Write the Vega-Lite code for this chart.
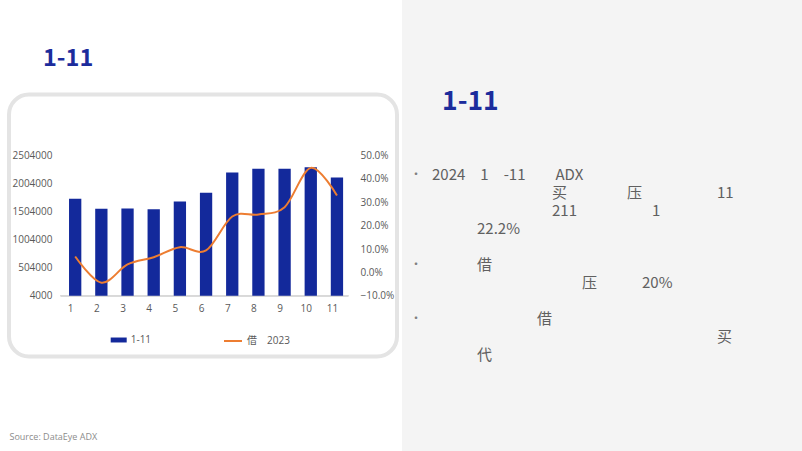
{
  "$schema": "https://vega.github.io/schema/vega-lite/v6.json",
  "background": "white",
  "padding": {"left": 7, "top": 0, "right": 0, "bottom": 0},
  "bounds": "flush",
  "center": true,
  "spacing": 5,
  "config": {
    "font": "Open Sans, Noto Sans CJK SC",
    "axis": {"labelFont": "Open Sans, Noto Sans CJK SC", "labelColor": "#595959", "labelFontSize": 10, "grid": false},
    "legend": {"labelFont": "Open Sans, Noto Sans CJK SC", "labelColor": "#595959", "labelFontSize": 10}
  },
  "hconcat": [
    {
      "width": 388,
      "height": 262,
      "view": {"stroke": "#e4e4e4", "strokeWidth": 4, "cornerRadius": 20, "fill": "white"},
      "title": {"text": "1-11", "anchor": "start", "frame": "group", "dx": 34, "offset": 5, "baseline": "alphabetic", "fontSize": 23.5, "fontWeight": "bold", "color": "#1c2c9c", "font": "Noto Sans CJK SC"},
      "data": {"values": [
        {"month": 1, "count": 1732000, "yoy": 0.068},
        {"month": 2, "count": 1554000, "yoy": -0.044},
        {"month": 3, "count": 1560000, "yoy": 0.034},
        {"month": 4, "count": 1548000, "yoy": 0.065},
        {"month": 5, "count": 1684000, "yoy": 0.108},
        {"month": 6, "count": 1839000, "yoy": 0.094},
        {"month": 7, "count": 2201000, "yoy": 0.239},
        {"month": 8, "count": 2266000, "yoy": 0.248},
        {"month": 9, "count": 2266000, "yoy": 0.279},
        {"month": 10, "count": 2296000, "yoy": 0.447},
        {"month": 11, "count": 2112000, "yoy": 0.329}
      ]},
      "encoding": {
        "x": {
          "field": "month", "type": "quantitative",
          "scale": {"domain": [-1.337, 13.103], "nice": false, "zero": false},
          "axis": {
            "orient": "bottom", "offset": -60.7, "ticks": false, "domain": false,
            "values": [1, 2, 3, 4, 5, 6, 7, 8, 9, 10, 11], "format": "d",
            "labelPadding": 8, "labelAngle": 0, "labelOffset": -5, "labelFlush": false,
            "title": "Source: DataEye ADX", "titleX": 0, "titleY": 141, "titleAlign": "left", "titleAnchor": "start",
            "titleBaseline": "middle", "titleFontSize": 9, "titleFontWeight": "normal", "titleColor": "#8c8c8c", "titleFont": "Open Sans"
          }
        }
      },
      "layer": [
        {
          "layer": [
            {
              "mark": {"type": "rule", "color": "#d9d9d9", "strokeWidth": 1},
              "encoding": {
                "x": {"datum": 0.45, "type": "quantitative"},
                "x2": {"datum": 11.43},
                "y": {"datum": 4000, "type": "quantitative"}
              }
            },
            {
              "mark": {"type": "bar", "width": 12.3},
              "encoding": {
                "y": {
                  "field": "count", "type": "quantitative",
                  "scale": {"domain": [-1077613, 3590959], "nice": false, "zero": false},
                  "axis": {"values": [4000, 504000, 1004000, 1504000, 2004000, 2504000], "format": "d", "domain": false, "ticks": false, "labelPadding": 2, "offset": -45, "title": null}
                },
                "y2": {"datum": 4000},
                "color": {
                  "datum": "1-11",
                  "scale": {"range": ["#13299b"]},
                  "legend": {"orient": "none", "legendX": 101.7, "legendY": 332, "title": null, "symbolType": "M-1,-0.31H1V0.31H-1Z", "symbolSize": 256, "symbolStrokeWidth": 0, "labelOffset": 4, "padding": 0}
                }
              }
            }
          ]
        },
        {
          "mark": {"type": "line", "interpolate": "cardinal", "strokeWidth": 2},
          "encoding": {
            "y": {
              "field": "yoy", "type": "quantitative",
              "scale": {"domain": [-0.35959, 0.76087], "nice": false, "zero": false},
              "axis": {"orient": "right", "values": [-0.1, 0, 0.1, 0.2, 0.3, 0.4, 0.5], "format": ".1%", "domain": false, "ticks": false, "labelPadding": 2, "offset": -39, "title": null}
            },
            "stroke": {
              "datum": "借　2023",
              "scale": {"range": ["#ed7d31"]},
              "legend": {"orient": "none", "legendX": 214, "legendY": 331, "title": null, "symbolType": "stroke", "symbolSize": 324, "symbolStrokeWidth": 2, "labelOffset": 4, "padding": 0}
            }
          }
        }
      ],
      "resolve": {"scale": {"y": "independent"}}
    },
    {
      "width": 400,
      "height": 451,
      "view": {"fill": "#f4f4f4", "stroke": null},
      "title": {"text": "1-11", "anchor": "start", "frame": "group", "dx": 40, "offset": -136, "baseline": "alphabetic", "fontSize": 26.5, "fontWeight": "bold", "color": "#1c2c9c", "font": "Noto Sans CJK SC"},
      "data": {"values": [
        {"line": 1, "bullet": "•", "text": "2024　1　-11　　ADX"},
        {"line": 2, "bullet": "", "text": "\u200b　　　　　　　　买　　　　压　　　　　11"},
        {"line": 3, "bullet": "", "text": "\u200b　　　　　　　　211　　　　　1"},
        {"line": 4, "bullet": "", "text": "\u200b　　　22.2%"},
        {"line": 6, "bullet": "•", "text": "\u200b　　　借"},
        {"line": 7, "bullet": "", "text": "\u200b　　　　　　　　　　压　　　20%"},
        {"line": 9, "bullet": "•", "text": "\u200b　　　　　　　借"},
        {"line": 10, "bullet": "", "text": "\u200b　　　　　　　　　　　　　　　　　　　买"},
        {"line": 11, "bullet": "", "text": "\u200b　　　代"}
      ]},
      "encoding": {
        "y": {"field": "line", "type": "quantitative", "scale": {"domain": [-8.7222, 16.3333], "nice": false, "zero": false, "reverse": true}, "axis": null}
      },
      "layer": [
        {
          "mark": {"type": "text", "align": "left", "baseline": "middle", "dx": -170, "fontSize": 15, "font": "Noto Sans CJK SC", "color": "#606060"},
          "encoding": {"text": {"field": "text"}}
        },
        {
          "mark": {"type": "text", "align": "left", "baseline": "middle", "dx": -192, "fontSize": 12, "font": "Noto Sans CJK SC", "color": "#7f7f7f"},
          "encoding": {"text": {"field": "bullet"}}
        }
      ]
    }
  ]
}
